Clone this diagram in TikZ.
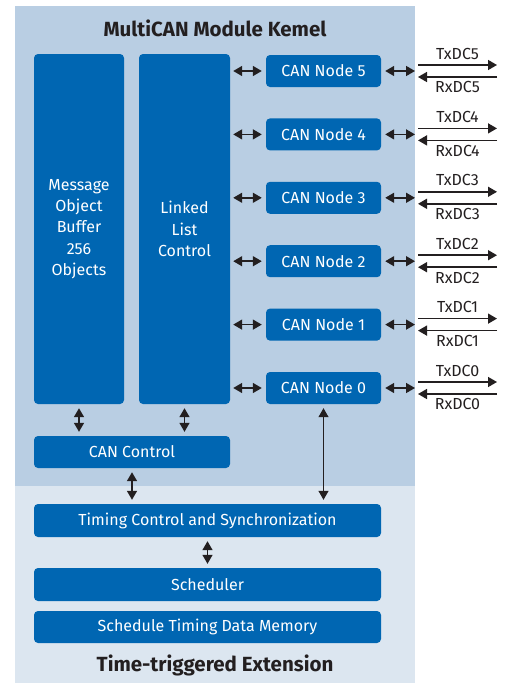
\documentclass[tikz,border=0pt]{standalone}
\usepackage{fontspec}
\setmainfont{Fira Sans}
\usetikzlibrary{positioning,arrows.meta}
\definecolor{canblue}{HTML}{0066B2}
\definecolor{kernelbg}{HTML}{B9CEE3}
\definecolor{extbg}{HTML}{DCE6F0}
\definecolor{inkdark}{HTML}{231F20}

\begin{document}
\begin{tikzpicture}[
    x=1pt, y=-1pt,
    blk/.style={rectangle, rounded corners=4pt, fill=canblue, text=white, inner sep=0pt, align=center, font=\fontsize{16}{21.3}\selectfont},
    dbl/.style={{Triangle[length=9pt,width=10pt]}-{Triangle[length=9pt,width=10pt]}, line width=1.5pt, draw=inkdark},
    sgl/.style={-{Triangle[length=9pt,width=10pt]}, line width=1.5pt, draw=inkdark},
    title/.style={font=\fontsize{20.5}{24}\selectfont\bfseries, text=inkdark},
    sig/.style={font=\fontsize{16}{18}\selectfont, text=inkdark, inner sep=1pt},
]

% Canvas and the two regions
\useasboundingbox (0,0) rectangle (506,683);
\fill[kernelbg] (15,6) rectangle (415,486);
\fill[extbg] (15,486) rectangle (415,683);
\coordinate (kedge) at (415,0);

% Titles
\node[title] (kernel) at (215,28) {MultiCAN Module Kemel};
\node[title] (ext) at (215,665) {Time-triggered Extension};

% Kernel blocks
\node[blk, minimum width=90pt, minimum height=350pt] (mob) at (79,229) {Message\\Object\\Buffer\\256\\Objects};
\node[blk, minimum width=91pt, minimum height=350pt] (llc) at (184.5,229) {Linked\\List\\Control};
\node[blk, minimum width=196pt, minimum height=32pt] (cc) at (132,452) {CAN Control};

% CAN nodes with their links
\foreach \i in {0,...,5} {
    \pgfmathsetmacro\yy{388-63.4*\i}
    \node[blk, minimum width=115pt, minimum height=32pt] (node\i) at (323.5,\yy) {CAN Node \i};
    \draw[dbl] ([xshift=3pt]llc.east |- node\i) -- ([xshift=-4pt]node\i.west);
    \draw[dbl] ([xshift=4pt]node\i.east) -- (kedge |- node\i);
    \coordinate (txa\i) at (418,\yy-6);
    \coordinate (txb\i) at (497,\yy-6);
    \coordinate (rxa\i) at (497,\yy+6);
    \coordinate (rxb\i) at (418,\yy+6);
    \draw[sgl] (txa\i) -- (txb\i) node[sig, midway, above=4pt] {TxDC\i};
    \draw[sgl] (rxa\i) -- (rxb\i) node[sig, midway, below=3pt] {RxDC\i};
}

% Time-triggered blocks
\node[blk, minimum width=347pt, minimum height=33pt] (tcs) at (207.5,520.5) {Timing Control and Synchronization};
\node[blk, minimum width=347pt, minimum height=33pt] (sched) at (207.5,584.5) {Scheduler};
\node[blk, minimum width=347pt, minimum height=32pt] (stdm) at (207.5,627) {Schedule Timing Data Memory};

% Vertical links
\draw[dbl] ([yshift=-4pt]mob.south) -- ([yshift=4pt]mob.south |- cc.north);
\draw[dbl] ([yshift=-4pt]llc.south) -- ([yshift=4pt]llc.south |- cc.north);
\draw[dbl] ([yshift=-4pt]cc.south) -- ([yshift=4pt]cc.south |- tcs.north);
\draw[dbl, line width=1.2pt] ([yshift=-4pt]node0.south) -- ([yshift=4pt]node0.south |- tcs.north);
\draw[dbl] ([yshift=-4pt]tcs.south) -- ([yshift=4pt]sched.north);

\end{tikzpicture}
\end{document}
